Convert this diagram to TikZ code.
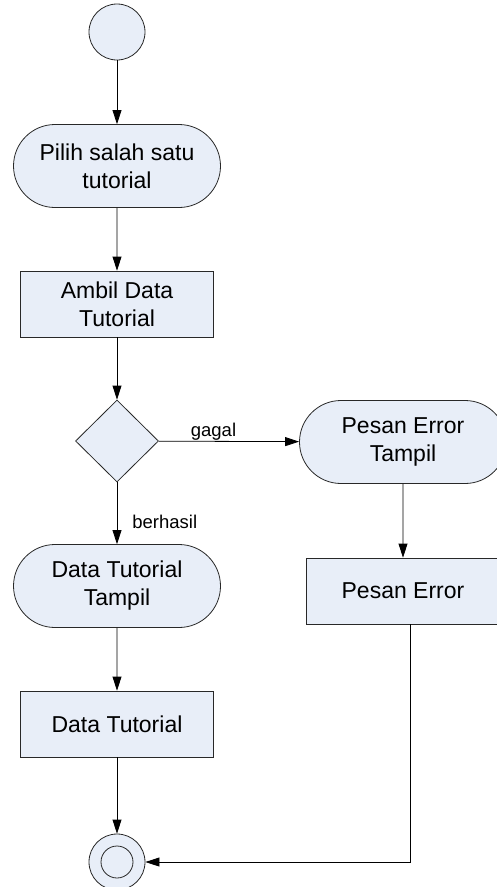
\documentclass[tikz,border=0pt]{standalone}
\usepackage{fontspec}
\setmainfont{Liberation Sans}
\usepackage{xcolor}
\usetikzlibrary{arrows.meta}
\usetikzlibrary{shapes.geometric}
\usetikzlibrary{shapes.misc}

\definecolor{actfill}{RGB}{232, 238, 248}
\definecolor{actline}{RGB}{40, 40, 40}

\tikzset{
  base/.style={draw=actline, fill=actfill, line width=0.8pt, inner sep=0pt,
    align=center, font=\fontsize{23}{28}\selectfont},
  startnode/.style={base, circle, minimum size=56pt},
  endnode/.style={base, circle, minimum size=56pt},
  actnode/.style={base, rounded rectangle, minimum width=207pt, minimum height=83pt},
  datanode/.style={base, rectangle, minimum width=193pt, minimum height=66pt},
  choice/.style={base, diamond, minimum width=83pt, minimum height=82pt},
  flow/.style={-{Triangle[length=14pt, width=9pt]}, line width=0.8pt, draw=black},
  guard/.style={font=\fontsize{18.5}{22}\selectfont, inner sep=1pt}
}

\begin{document}
\begin{tikzpicture}[x=1pt, y=-1pt]

    \useasboundingbox (0, 0) rectangle (497, 887);

    \node [startnode] (start) at (117, 32) {};
    \node [actnode] (pilih) at (117, 166) {Pilih salah satu\\tutorial};
    \node [datanode] (ambil) at (117, 304) {Ambil Data\\Tutorial};
    \node [choice] (cek) at (117, 441) {};
    \node [actnode] (errshow) at (403, 442) {Pesan Error\\Tampil};
    \node [datanode] (errdata) at (403, 591) {Pesan Error};
    \node [actnode] (datashow) at (117, 586) {Data Tutorial\\Tampil};
    \node [datanode] (datalist) at (117, 724) {Data Tutorial};
    \node [endnode] (end) at (117, 862) {};
    \draw [draw=actline, line width=0.8pt] (end.center) circle (16pt);

    \draw [flow] (start) -- (pilih);
    \draw [flow] (pilih) -- (ambil);
    \draw [flow] (ambil) -- (cek);
    \draw [flow] (cek) -- node [guard, pos=0.39, above] {gagal} (errshow);
    \draw [flow] (cek) -- node [guard, pos=0.635, right=14pt] {berhasil} (datashow);
    \draw [flow] (errshow) -- (errdata);
    \draw [flow] (datashow) -- (datalist);
    \draw [flow] (datalist) -- (end);
    \draw [flow] ([xshift=7pt]errdata.south) |- (end);

\end{tikzpicture}
\end{document}
